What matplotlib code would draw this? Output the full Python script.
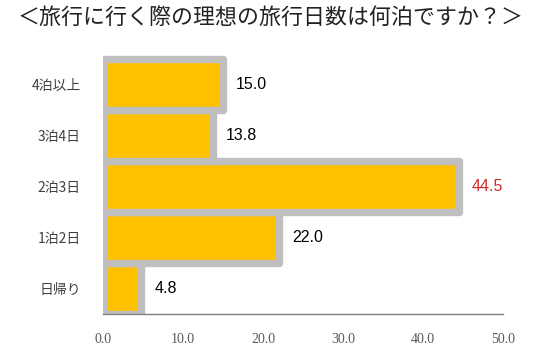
import matplotlib.pyplot as plt

plt.rcParams['font.family'] = ['Noto Sans CJK JP', 'DejaVu Sans']

title = "＜旅行に行く際の理想の旅行日数は何泊ですか？＞"
categories = ["日帰り", "1泊2日", "2泊3日", "3泊4日", "4泊以上"]
values = [4.8, 22.0, 44.5, 13.8, 15.0]
label_colors = ["black", "black", "#d42a2a", "black", "black"]
xticks = [0, 10, 20, 30, 40, 50]

fig = plt.figure(figsize=(5.42, 3.59), dpi=100)
# axes placed in pixel terms of the 542x359 canvas, top covers the bar edge
ax = fig.add_axes([103 / 542, 1 - 314 / 359, 400 / 542, 259 / 359])

y = range(len(categories))
ax.barh(y, values, height=1.0, color="#FFC000", edgecolor="#BFBFBF",
        linewidth=5.3, joinstyle="round", zorder=2)

for i, v in enumerate(values):
    ax.text(v + 1.6, i, f"{v:.1f}", va="center", ha="left", fontsize=11.5,
            color=label_colors[i], family=["Liberation Sans", "DejaVu Sans"])

ax.set_xlim(0, 50)
ax.set_ylim(-0.5, len(categories) - 0.5 + 0.07)
ax.set_xticks(xticks)
ax.set_xticklabels([f"{t:.1f}" for t in xticks], family="Liberation Serif",
                   fontsize=10, color="#595959")
ax.set_yticks(list(y))
ax.set_yticklabels(categories, fontsize=10, color="#404040")
ax.tick_params(axis="both", length=0)
ax.tick_params(axis="x", pad=14)
ax.tick_params(axis="y", pad=16)

for side in ["top", "right", "left"]:
    ax.spines[side].set_visible(False)
ax.spines["bottom"].set_color("#808080")
ax.spines["bottom"].set_linewidth(1.0)
ax.spines["bottom"].set_zorder(3)

fig.text(0.5, 1 - 18 / 359, title, ha="center", va="center", fontsize=15.8, color="#222222")

fig.savefig("out.png", dpi=100, facecolor="white")
